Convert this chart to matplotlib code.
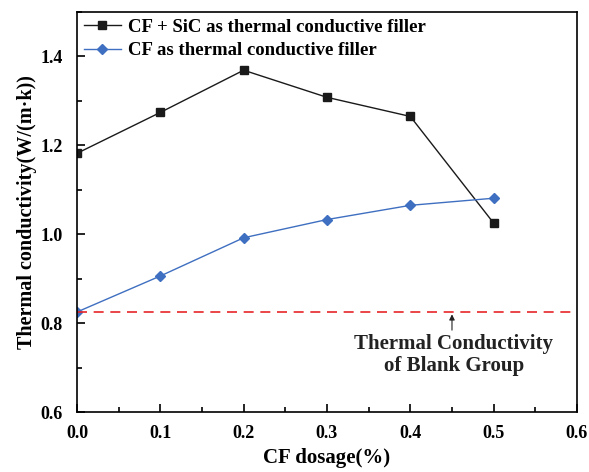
import matplotlib

matplotlib.use("Agg")
import matplotlib.pyplot as plt
from matplotlib.ticker import MultipleLocator

plt.rcParams["font.family"] = ["Liberation Serif", "DejaVu Serif"]
plt.rcParams["font.weight"] = "bold"

dosage = [0.0, 0.1, 0.2, 0.3, 0.4, 0.5]
cf_sic = [1.182, 1.274, 1.369, 1.308, 1.265, 1.025]
cf_only = [0.825, 0.906, 0.992, 1.033, 1.065, 1.081]
blank = 0.826

fig = plt.figure(figsize=(5.89, 4.72), dpi=100)
ax = fig.add_axes([0.1307, 0.1271, 0.8489, 0.8475])

ax.plot(dosage, cf_sic, color="#1a1a1a", lw=1.0, marker="s", ms=6,
        label="CF + SiC as thermal conductive filler")
ax.plot(dosage, cf_only, color="#3f6fc0", lw=1.0, marker="D", ms=5.5,
        label="CF as thermal conductive filler")
ax.axhline(blank, color="#e8262a", lw=1.2, ls=(0, (6, 4)))

ax.annotate("", xy=(0.45, blank), xytext=(0.45, blank - 0.048),
            arrowprops=dict(arrowstyle="-|>", color="#222222", lw=0.8,
                            mutation_scale=8))
ax.text(0.452, blank - 0.05, "Thermal Conductivity\nof Blank Group",
        ha="center", va="top", fontsize=15, fontweight="bold",
        color="#222222", linespacing=1.15)

ax.set_xlim(0, 0.6)
ax.set_ylim(0.6, 1.5)
ax.xaxis.set_major_locator(MultipleLocator(0.1))
ax.xaxis.set_minor_locator(MultipleLocator(0.05))
ax.yaxis.set_major_locator(MultipleLocator(0.2))
ax.yaxis.set_minor_locator(MultipleLocator(0.1))
ax.tick_params(which="both", direction="in", top=False, right=False,
               labelsize=13, width=1.2)
ax.tick_params(which="major", length=6)
ax.tick_params(which="minor", length=3.5)
ax.tick_params(axis="x", pad=9)
ax.tick_params(axis="y", pad=10)
for s in ax.spines.values():
    s.set_linewidth(1.2)

ax.set_xlabel("CF dosage(%)", fontsize=15, fontweight="bold", labelpad=5)
ax.set_ylabel("Thermal conductivity(W/(m·k))", fontsize=14.5,
              fontweight="bold", labelpad=3)

ax.legend(loc="upper left", frameon=False, fontsize=13.5, handlelength=2.0,
          borderaxespad=0.0, handletextpad=0.35, labelspacing=0.35,
          borderpad=0.35)

fig.savefig("out.png", dpi=100)
